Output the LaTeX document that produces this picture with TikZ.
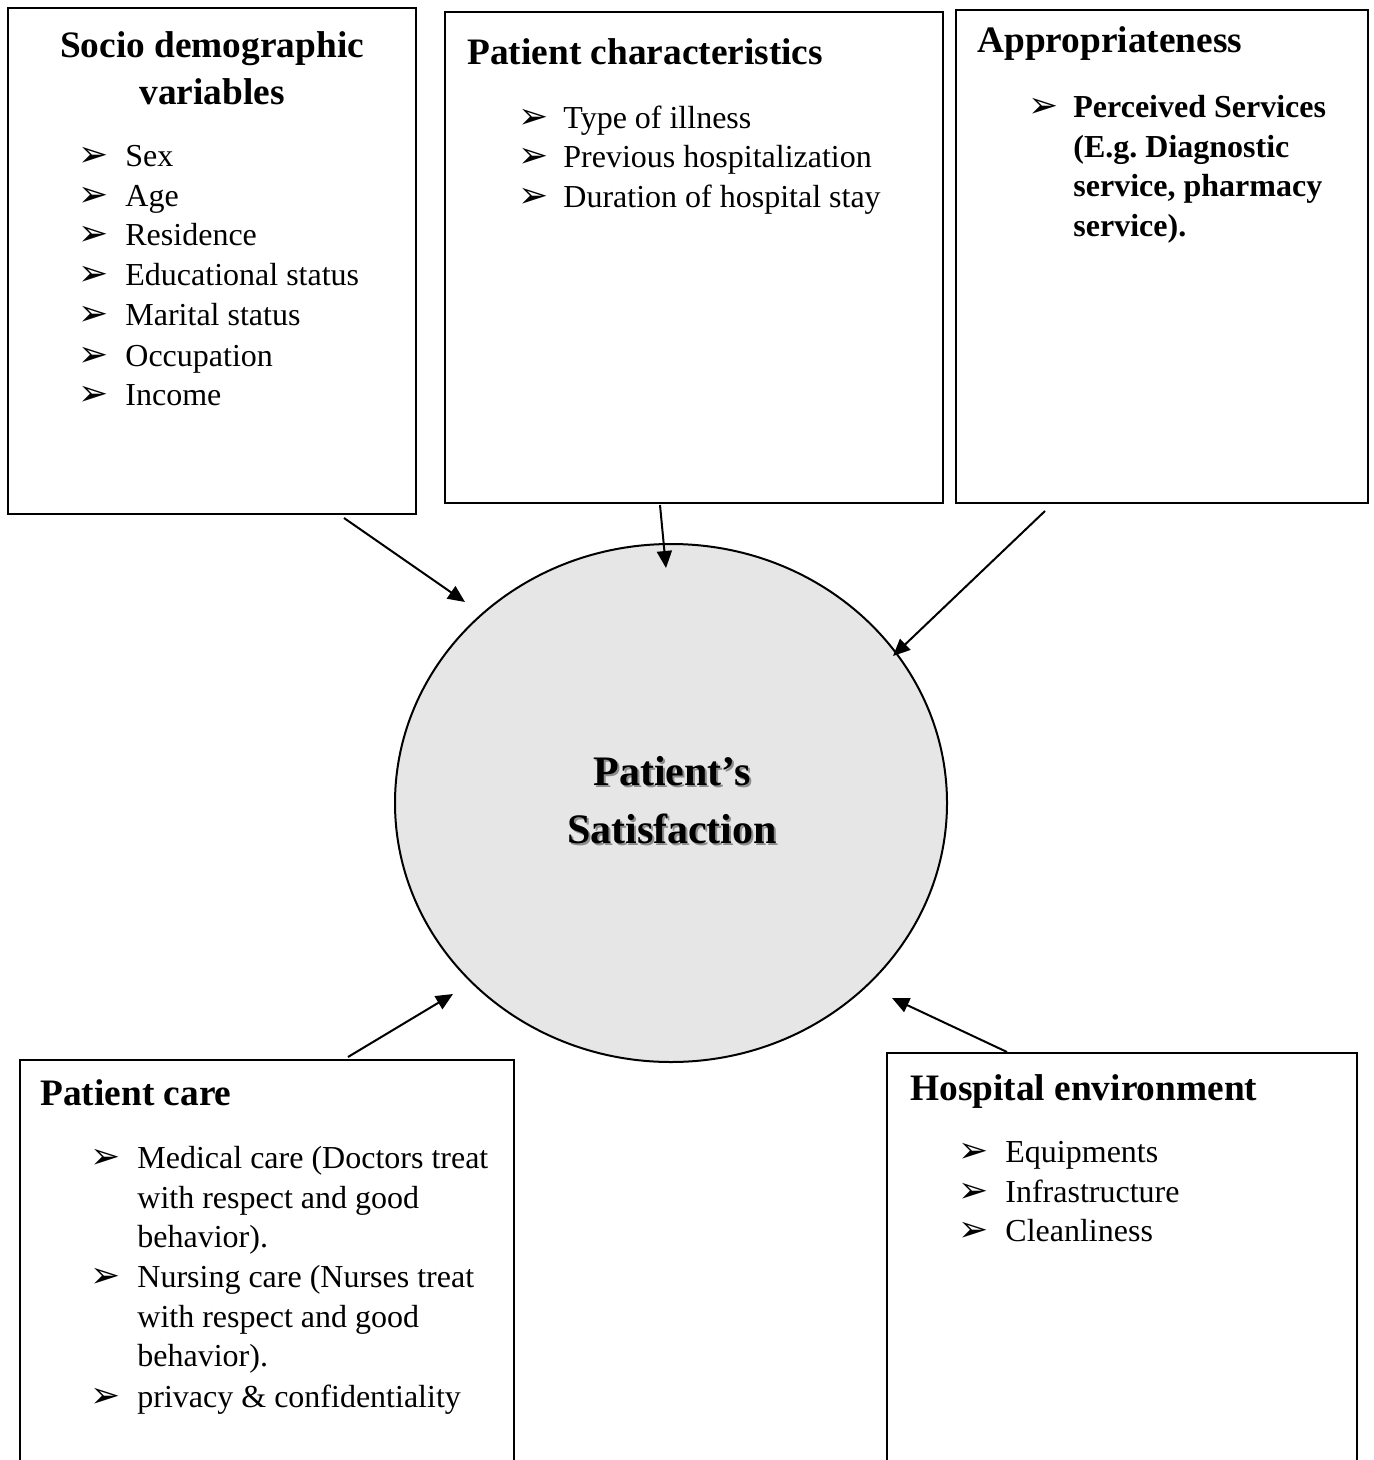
\documentclass[tikz,border=0pt]{standalone}
\usepackage{fontspec}
\setmainfont{Liberation Serif}
\newfontfamily\djv{DejaVu Sans}
\usetikzlibrary{shapes.geometric,arrows.meta,fit}
\definecolor{circfill}{RGB}{230,230,230}
\tikzset{
 box/.style={draw, line width=1pt, inner sep=0pt},
 ttl/.style={font=\fontsize{18.67}{23.5}\selectfont\bfseries, inner sep=0pt, anchor=base west},
 itm/.style={font=\fontsize{16}{19.85}\selectfont, inner sep=0pt, anchor=base west},
 bitm/.style={itm, font=\fontsize{16}{19.85}\selectfont\bfseries},
 bul/.style={font=\djv\fontsize{18}{18}\selectfont, inner sep=0pt, anchor=base west},
 ctr/.style={font=\fontsize{21}{29.5}\selectfont\bfseries, inner sep=0pt, anchor=base},
 arr/.style={line width=1pt, -{Triangle[length=8.5pt,width=7.5pt]}},
}
\begin{document}
\begin{tikzpicture}[x=0.5pt,y=-0.5pt]
\useasboundingbox (0,0) rectangle (1374,1460);
% central ellipse
\node[ellipse, draw, line width=1pt, fill=circfill, minimum width=276pt, minimum height=259pt, inner sep=0pt] (c) at (671,803) {};
\node[ctr, text=black!45] (c1s) at (674,787.5) {Patient’s};
\node[ctr, text=black!45] (c2s) at (674,845.5) {Satisfaction};
\node[ctr] (c1) at (672,785) {Patient’s};
\node[ctr] (c2) at (672,843) {Satisfaction};

% box 1
\node[box, fit={(8,8) (416,514)}] (b1) {};
\node[ttl, anchor=base] (t1a) at (212,58) {Socio demographic};
\node[ttl, anchor=base] (t1b) at (212,105) {variables};
\foreach \y/\t [count=\i] in {167/Sex,207/Age,246/Residence,286/Educational status,326/Marital status,366/Occupation,405/Income}{
  \node[bul] (b1u\i) at (78,\y) {➢};
  \node[itm] (b1i\i) at (125,\y) {\t};
}

% box 2
\node[box, fit={(445,12) (943,503)}] (b2) {};
\node[ttl] (t2) at (467,65) {Patient characteristics};
\foreach \y/\t [count=\i] in {129/Type of illness,168/Previous hospitalization,208/Duration of hospital stay}{
  \node[bul] (b2u\i) at (518,\y) {➢};
  \node[itm] (b2i\i) at (563,\y) {\t};
}

% box 3
\node[box, fit={(956,10) (1368,503)}] (b3) {};
\node[ttl] (t3) at (977,53) {Appropriateness};
\node[bul] (b3u1) at (1028,118) {➢};
\node[bitm] (b3i1) at (1073,118) {Perceived Services};
\node[bitm] (b3i2) at (1073,158) {(E.g.\ Diagnostic};
\node[bitm] (b3i3) at (1073,197) {service, pharmacy};
\node[bitm] (b3i4) at (1073,237) {service).};

% bottom boxes (cut by the page edge)
\begin{scope}
\clip (0,0) rectangle (1374,1460);
\node[box, fit={(20,1060) (514,1490)}] (b4) {};
\node[box, fit={(887,1053) (1357,1490)}] (b5) {};
\end{scope}

% box 4
\node[ttl] (t4) at (40,1105) {Patient care};
\node[bul] (b4u1) at (90,1168) {➢};
\node[bul] (b4u2) at (90,1287) {➢};
\node[bul] (b4u3) at (90,1407) {➢};
\foreach \y/\t [count=\i] in {1168/Medical care (Doctors treat,1208/with respect and good,1247/behavior).,1287/Nursing care (Nurses treat,1327/with respect and good,1366/behavior).,1407/privacy \& confidentiality}{
  \node[itm] (b4i\i) at (137,\y) {\t};
}

% box 5
\node[ttl] (t5) at (910,1100) {Hospital environment};
\foreach \y/\t [count=\i] in {1162/Equipments,1202/Infrastructure,1241/Cleanliness}{
  \node[bul] (b5u\i) at (958,\y) {➢};
  \node[itm] (b5i\i) at (1005,\y) {\t};
}

% connectors
\coordinate (s1) at (344,518); \coordinate (e1) at (465,602);
\coordinate (s2) at (660,505); \coordinate (e2) at (666,568);
\coordinate (s3) at (1045,511); \coordinate (e3) at (893,656);
\coordinate (s4) at (348,1057); \coordinate (e4) at (453,994);
\coordinate (s5) at (1007,1052); \coordinate (e5) at (892,998);
\draw[arr] (s1) -- (e1);
\draw[arr] (s2) -- (e2);
\draw[arr] (s3) -- (e3);
\draw[arr] (s4) -- (e4);
\draw[arr] (s5) -- (e5);
\end{tikzpicture}
\end{document}
